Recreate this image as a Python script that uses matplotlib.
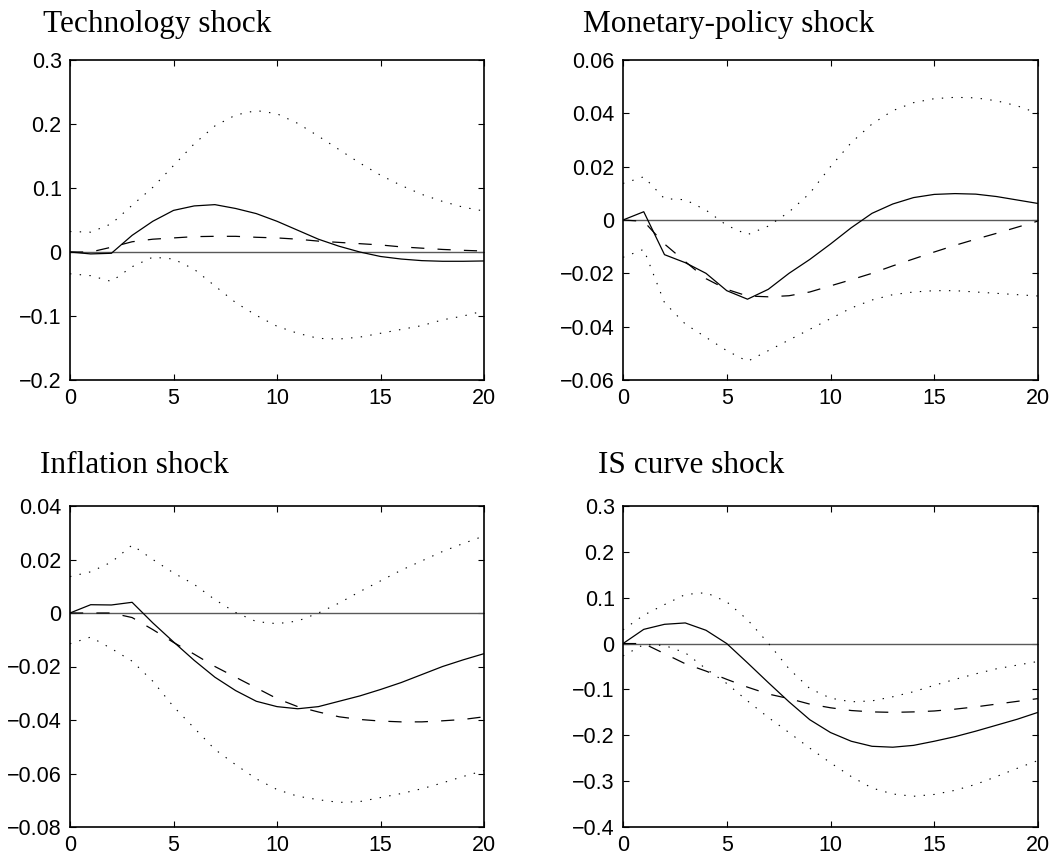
import numpy as np
import matplotlib
matplotlib.use("Agg")
import matplotlib.pyplot as plt
from matplotlib.ticker import FuncFormatter

# horizon (quarters)
horizon = np.arange(0, 21)

titles = ["Technology shock", "Monetary-policy shock", "Inflation shock", "IS curve shock"]

# technology shock
tech_irf = [0, -0.003, -0.002, 0.026, 0.048, 0.065, 0.072, 0.074, 0.068, 0.060, 0.048,
            0.034, 0.020, 0.009, 0.000, -0.007, -0.011, -0.0135, -0.0145, -0.0145, -0.014]
tech_alt = [0, 0.0, 0.0075, 0.016, 0.020, 0.022, 0.024, 0.0245, 0.0245, 0.023, 0.022,
            0.020, 0.017, 0.015, 0.013, 0.011, 0.008, 0.006, 0.004, 0.0026, 0.0015]
tech_hi = [0.032, 0.031, 0.044, 0.073, 0.101, 0.135, 0.169, 0.197, 0.214, 0.221, 0.216,
           0.201, 0.181, 0.160, 0.139, 0.120, 0.104, 0.090, 0.079, 0.070, 0.064]
tech_lo = [-0.034, -0.037, -0.046, -0.023, -0.008, -0.011, -0.027, -0.053, -0.079, -0.099, -0.116,
           -0.127, -0.135, -0.136, -0.133, -0.127, -0.121, -0.115, -0.106, -0.100, -0.092]

# monetary-policy shock
mp_irf = [0, 0.0031, -0.013, -0.016, -0.020, -0.0265, -0.0297, -0.026, -0.020, -0.0148, -0.009,
          -0.0029, 0.0025, 0.006, 0.0084, 0.0096, 0.0099, 0.0097, 0.0088, 0.0075, 0.0062]
mp_alt = [0, -0.0005, -0.009, -0.0156, -0.022, -0.026, -0.0285, -0.0288, -0.0284, -0.027, -0.0247,
          -0.0224, -0.020, -0.0172, -0.0146, -0.012, -0.0095, -0.0072, -0.005, -0.0027, -0.0004]
mp_hi = [0.0137, 0.0162, 0.008, 0.0076, 0.0037, -0.002, -0.0055, -0.0023, 0.003, 0.010, 0.020,
         0.029, 0.036, 0.041, 0.044, 0.0455, 0.046, 0.0458, 0.0447, 0.0428, 0.040]
mp_lo = [-0.014, -0.011, -0.031, -0.039, -0.044, -0.049, -0.053, -0.049, -0.045, -0.041, -0.037,
         -0.033, -0.030, -0.028, -0.027, -0.0265, -0.0265, -0.027, -0.0275, -0.028, -0.0285]

# inflation shock
inf_irf = [0, 0.0031, 0.003, 0.004, -0.0037, -0.0108, -0.0177, -0.024, -0.029, -0.033, -0.035,
           -0.0358, -0.035, -0.033, -0.031, -0.0286, -0.026, -0.023, -0.020, -0.0175, -0.0152]
inf_alt = [0, 0, 0, -0.0017, -0.0062, -0.011, -0.0154, -0.020, -0.024, -0.028, -0.032,
           -0.035, -0.037, -0.0388, -0.0398, -0.0404, -0.0407, -0.0407, -0.0403, -0.0398, -0.0388]
inf_hi = [0.0136, 0.0154, 0.019, 0.0254, 0.020, 0.015, 0.0107, 0.005, 0.0002, -0.0032, -0.004,
          -0.003, 0.0, 0.0037, 0.008, 0.012, 0.016, 0.0195, 0.023, 0.026, 0.0288]
inf_lo = [-0.0115, -0.009, -0.0133, -0.018, -0.0255, -0.035, -0.043, -0.051, -0.0567, -0.062, -0.066,
          -0.0685, -0.0698, -0.0708, -0.0705, -0.069, -0.0675, -0.0657, -0.0635, -0.0611, -0.0589]

# IS curve shock
is_irf = [0, 0.031, 0.042, 0.045, 0.029, 0.0, -0.042, -0.085, -0.127, -0.166, -0.194,
          -0.213, -0.224, -0.226, -0.222, -0.213, -0.203, -0.191, -0.178, -0.165, -0.150]
is_alt = [0, 0.0, -0.022, -0.044, -0.060, -0.078, -0.095, -0.110, -0.120, -0.132, -0.140,
          -0.146, -0.149, -0.150, -0.149, -0.147, -0.143, -0.138, -0.132, -0.126, -0.120]
is_hi = [0.030, 0.062, 0.085, 0.107, 0.111, 0.091, 0.052, 0.001, -0.055, -0.098, -0.119,
         -0.127, -0.125, -0.116, -0.105, -0.091, -0.078, -0.066, -0.055, -0.047, -0.039]
is_lo = [-0.027, -0.002, -0.004, -0.020, -0.055, -0.087, -0.125, -0.161, -0.194, -0.228, -0.260,
         -0.290, -0.315, -0.328, -0.333, -0.329, -0.320, -0.307, -0.290, -0.272, -0.255]

series = [
    (tech_irf, tech_alt, tech_hi, tech_lo),
    (mp_irf, mp_alt, mp_hi, mp_lo),
    (inf_irf, inf_alt, inf_hi, inf_lo),
    (is_irf, is_alt, is_hi, is_lo),
]

y_limits = [(-0.2, 0.3), (-0.06, 0.06), (-0.08, 0.04), (-0.4, 0.3)]
y_steps = [0.1, 0.02, 0.02, 0.1]
y_decimals = [1, 2, 2, 1]
x_ticks = [0, 5, 10, 15, 20]

plt.rcParams["font.family"] = ["Liberation Sans", "DejaVu Sans"]
plt.rcParams["lines.scale_dashes"] = False

W, H = 1060, 861
fig = plt.figure(figsize=(W / 100, H / 100), dpi=100)

# axes boxes in pixels: left, top, right, bottom
boxes = [(70, 60, 484, 380), (623, 60, 1038, 380), (70, 506, 484, 827), (623, 506, 1038, 827)]
title_pos = [(43, 32), (583, 32), (40, 473), (598, 473)]


def make_fmt(d):
    def f(v, _):
        if abs(v) < 1e-9:
            return "0"
        return f"{v:.{d}f}".replace("-", "\u2212")
    return f


for i in range(4):
    l, t, r, b = boxes[i]
    ax = fig.add_axes([l / W, 1 - b / H, (r - l) / W, (b - t) / H])
    irf, alt, hi, lo = series[i]

    ax.plot([0, 20], [0, 0], color="0.35", lw=1.0)
    ax.plot(horizon, hi, color="black", lw=0.8, linestyle=(0, (1.0, 6.0)))
    ax.plot(horizon, lo, color="black", lw=0.8, linestyle=(0, (1.0, 6.0)))
    ax.plot(horizon, alt, color="black", lw=0.9, linestyle=(0, (9.5, 9.5)))
    ax.plot(horizon, irf, color="black", lw=0.9)

    lo_y, hi_y = y_limits[i]
    ax.set_xlim(0, 20)
    ax.set_ylim(lo_y, hi_y)
    ax.set_xticks(x_ticks)
    n = int(round((hi_y - lo_y) / y_steps[i]))
    ax.set_yticks(np.linspace(lo_y, hi_y, n + 1))
    ax.yaxis.set_major_formatter(FuncFormatter(make_fmt(y_decimals[i])))
    ax.tick_params(direction="in", top=True, right=True, length=4, width=0.8,
                   labelsize=15.5, pad=6)
    for s in ax.spines.values():
        s.set_linewidth(1.2)

    fig.text(title_pos[i][0] / W, 1 - title_pos[i][1] / H, titles[i],
             family=["Liberation Serif", "DejaVu Serif"], fontsize=22.5,
             ha="left", va="baseline")

fig.savefig("out.png", dpi=100)
